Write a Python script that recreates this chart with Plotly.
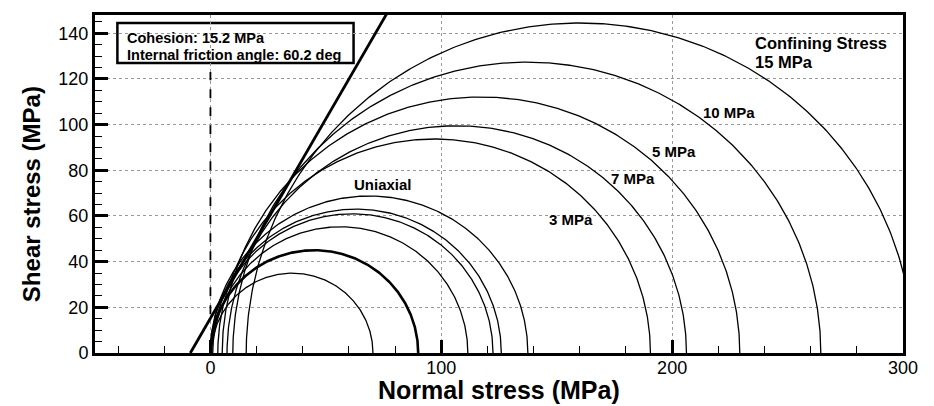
import numpy as np
import plotly.graph_objects as go

# ---- data ----
COHESION = 15.2          # MPa
FRICTION_ANGLE = 60.2    # deg

# Mohr circles: minimum and maximum principal stress (MPa)
sigma3 = [0.5, 0.0, 1.0, 0.5, 0.0, 0.0, 3.2, 7.2, 5.1, 9.7, 15.5]
sigma1 = [70.4, 90.0, 111.5, 122.4, 126.0, 137.5, 190.6, 206.2, 229.3, 264.4, 304.5]
circle_width = [1.3, 2.6, 1.3, 1.3, 1.3, 1.3, 1.3, 1.3, 1.3, 1.3, 1.3]

# dashed reference line at sigma = 0
dash_x = [0, 0]
dash_y = [17, 123]

# labels
label_text = ["Uniaxial", "3 MPa", "7 MPa", "5 MPa", "10 MPa"]
label_x = [74.6, 156.0, 183.0, 200.6, 224.5]
label_y = [73.8, 58.6, 76.5, 88.4, 105.5]

x_ticks = [0, 100, 200, 300]
y_ticks = [0, 20, 40, 60, 80, 100, 120, 140]

FONT = "Arial, Liberation Sans, sans-serif"

fig = go.Figure()

theta = np.linspace(0, np.pi, 400)
for s3, s1, w in zip(sigma3, sigma1, circle_width):
    c = (s1 + s3) / 2.0
    r = (s1 - s3) / 2.0
    fig.add_trace(go.Scatter(x=c + r * np.cos(theta), y=r * np.sin(theta),
                             mode="lines", line=dict(color="black", width=w),
                             hoverinfo="skip", showlegend=False))

# Mohr-Coulomb envelope
tanphi = np.tan(np.radians(FRICTION_ANGLE))
env_x = np.array([-COHESION / tanphi, (160 - COHESION) / tanphi])
env_y = COHESION + tanphi * env_x
fig.add_trace(go.Scatter(x=env_x, y=env_y, mode="lines",
                         line=dict(color="black", width=2.8),
                         hoverinfo="skip", showlegend=False))

fig.add_trace(go.Scatter(x=dash_x, y=dash_y, mode="lines",
                         line=dict(color="black", width=1.8, dash="dash"),
                         hoverinfo="skip", showlegend=False))

annotations = []
for t, x, y in zip(label_text, label_x, label_y):
    annotations.append(dict(x=x, y=y, text=f"<b>{t}</b>", showarrow=False,
                            font=dict(family=FONT, size=15, color="black"),
                            xanchor="center", yanchor="middle"))

annotations.append(dict(x=235, y=(352.7 - 40.5) / 2.3, text="<b>Confining Stress</b>",
                        showarrow=False, font=dict(family=FONT, size=16.5, color="black"),
                        xanchor="left", yanchor="middle"))
annotations.append(dict(x=235, y=(352.7 - 60.0) / 2.3, text="<b>15 MPa</b>",
                        showarrow=False, font=dict(family=FONT, size=16.5, color="black"),
                        xanchor="left", yanchor="middle"))

# parameter box
box_lines = [f"Cohesion: {COHESION} MPa", f"Internal friction angle: {FRICTION_ANGLE} deg"]
box_line_y = [138.0, 130.4]
for t, y in zip(box_lines, box_line_y):
    annotations.append(dict(x=-36.8, y=y, text=f"<b>{t}</b>", showarrow=False,
                            xanchor="left", yanchor="middle",
                            font=dict(family=FONT, size=14.5, color="black")))

fig.add_shape(type="rect", xref="x", yref="y", x0=-40.3, x1=62.0, y0=127.0, y1=144.5,
              line=dict(color="black", width=2.5), fillcolor="white", layer="below")

# axis titles
annotations.append(dict(xref="paper", yref="paper", x=0.5, y=0, yshift=-37,
                        text="<b>Normal stress (MPa)</b>", showarrow=False,
                        xanchor="center", yanchor="middle",
                        font=dict(family=FONT, size=25, color="black")))
annotations.append(dict(xref="paper", yref="paper", x=0, y=0.47, xshift=-64,
                        text="<b>Shear stress (MPa)</b>", showarrow=False, textangle=-90,
                        xanchor="center", yanchor="middle",
                        font=dict(family=FONT, size=24, color="black")))

grid = dict(showgrid=True, gridcolor="#9a9a9a", gridwidth=1, griddash="dot")

fig.update_layout(
    width=934, height=406,
    margin=dict(l=95, r=31, t=12, b=53),
    paper_bgcolor="white", plot_bgcolor="white",
    annotations=annotations,
    xaxis=dict(range=[-50, 300], tickvals=x_ticks, ticks="inside", ticklen=13,
               tickwidth=3, tickcolor="black", ticklabelstandoff=-4,
               tickfont=dict(family=FONT, size=18, color="black"),
               showline=True, linecolor="black", linewidth=3, mirror=True,
               zeroline=False,
               minor=dict(dtick=20, ticks="inside", ticklen=7, tickwidth=1,
                          tickcolor="black", showgrid=False, tick0=0),
               **grid),
    yaxis=dict(range=[0, 148], tickvals=y_ticks, ticks="inside", ticklen=13,
               tickwidth=3, tickcolor="black",
               tickfont=dict(family=FONT, size=18, color="black"),
               showline=True, linecolor="black", linewidth=3, mirror=True,
               zeroline=False,
               minor=dict(dtick=5, ticks="inside", ticklen=7, tickwidth=1,
                          tickcolor="black", showgrid=False, tick0=0),
               **grid),
)

fig.write_html("out.html")
